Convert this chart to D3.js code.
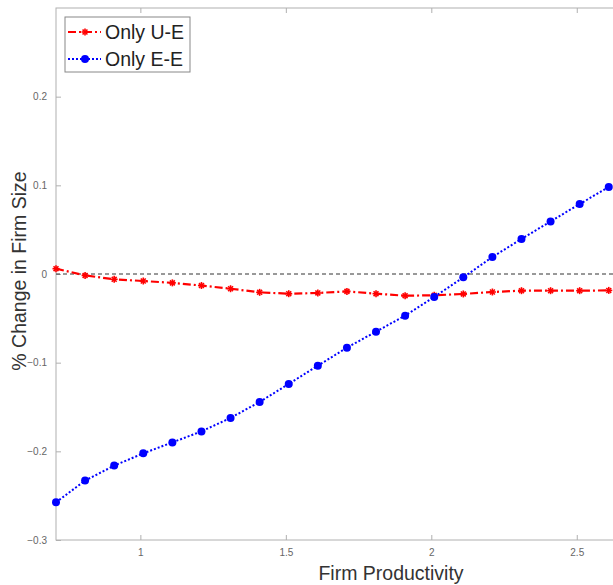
<!DOCTYPE html>
<html>
<head>
<meta charset="utf-8">
<script src="https://cdn.jsdelivr.net/npm/d3@7"></script>
<style>
  body { margin: 0; background: #fff; }
  svg { display: block; font-family: "Liberation Sans", Arial, sans-serif; }
</style>
</head>
<body>
<div id="app"></div>
<script>
const productivity = [0.71, 0.81, 0.91, 1.01, 1.11, 1.21, 1.31, 1.41, 1.51, 1.61,
  1.71, 1.81, 1.91, 2.01, 2.11, 2.21, 2.31, 2.41, 2.51, 2.61];
const onlyUE = [0.006, -0.0016, -0.006, -0.0079, -0.010, -0.013, -0.0166, -0.0207, -0.0222, -0.0214,
  -0.0196, -0.0222, -0.0245, -0.024, -0.0225, -0.0203, -0.0188, -0.0188, -0.0188, -0.0185];
const onlyEE = [-0.2575, -0.233, -0.2161, -0.2023, -0.1899, -0.1775, -0.1623, -0.1443, -0.124, -0.1034,
  -0.0831, -0.065, -0.047, -0.0259, -0.0038, 0.0192, 0.0395, 0.0593, 0.0789, 0.0981];
const xTicks = [1, 1.5, 2, 2.5];
const yTicks = [-0.3, -0.2, -0.1, 0, 0.1, 0.2];

const width = 613, height = 585;
const box = { left: 56, right: 614, top: 8, bottom: 540 };

const svg = d3.select("#app").append("svg")
  .attr("width", width)
  .attr("height", height);

const x = d3.scaleLinear().domain([0.71, 2.628]).range([box.left, box.right]);
const y = d3.scaleLinear().domain([-0.3, 0.3]).range([box.bottom, box.top]);

const axisColor = "#b0b0b0";
const labelColor = "#666";

// box outline
svg.append("rect")
  .attr("x", box.left).attr("y", box.top)
  .attr("width", box.right - box.left).attr("height", box.bottom - box.top)
  .style("fill", "none").style("stroke", axisColor).style("stroke-width", 1);

// bottom axis, inward ticks
const xAxis = svg.append("g")
  .attr("transform", `translate(0,${box.bottom})`)
  .call(d3.axisBottom(x).tickValues(xTicks).tickSizeInner(-5).tickSizeOuter(0).tickPadding(9)
    .tickFormat(d3.format("")));
xAxis.select(".domain").remove();
xAxis.selectAll("line").style("stroke", axisColor);
xAxis.selectAll("text").style("fill", labelColor).style("font-size", "10px");

// top ticks
svg.append("g")
  .attr("transform", `translate(0,${box.top})`)
  .call(d3.axisTop(x).tickValues(xTicks).tickSizeInner(-5).tickSizeOuter(0).tickFormat(""))
  .call(g => g.select(".domain").remove())
  .selectAll("line").style("stroke", axisColor);

// left axis
const yAxis = svg.append("g")
  .attr("transform", `translate(${box.left},0)`)
  .call(d3.axisLeft(y).tickValues(yTicks).tickSizeInner(-5).tickSizeOuter(0).tickPadding(9)
    .tickFormat(d3.format("")));
yAxis.select(".domain").remove();
yAxis.selectAll("line").style("stroke", axisColor);
yAxis.selectAll("text").style("fill", labelColor).style("font-size", "10px");

// zero reference line
svg.append("line")
  .attr("x1", box.left).attr("x2", box.right)
  .attr("y1", y(0)).attr("y2", y(0))
  .style("stroke", "#333").style("stroke-width", 1)
  .style("stroke-dasharray", "4,3");

// axis titles
svg.append("text")
  .attr("x", 391)
  .attr("y", 580)
  .attr("text-anchor", "middle")
  .style("font-size", "19.5px")
  .style("fill", "#333")
  .text("Firm Productivity");

svg.append("text")
  .attr("transform", `translate(26,271) rotate(-90)`)
  .attr("text-anchor", "middle")
  .style("font-size", "19.5px")
  .style("fill", "#333")
  .text("% Change in Firm Size");

const ueData = productivity.map((p, i) => ({ x: p, y: onlyUE[i] }));
const eeData = productivity.map((p, i) => ({ x: p, y: onlyEE[i] }));

const line = d3.line().x(d => x(d.x)).y(d => y(d.y));

// asterisk marker
function star(g, cx, cy, r) {
  const s = g.append("g").attr("transform", `translate(${cx},${cy})`)
    .style("stroke", "#ff0000").style("stroke-width", 1.6);
  s.append("line").attr("x1", -r).attr("x2", r).attr("y1", 0).attr("y2", 0);
  s.append("line").attr("x1", 0).attr("x2", 0).attr("y1", -r).attr("y2", r);
  s.append("line").attr("x1", -r * 0.7).attr("x2", r * 0.7).attr("y1", -r * 0.7).attr("y2", r * 0.7);
  s.append("line").attr("x1", -r * 0.7).attr("x2", r * 0.7).attr("y1", r * 0.7).attr("y2", -r * 0.7);
}

svg.append("path")
  .datum(ueData)
  .attr("d", line)
  .style("fill", "none").style("stroke", "#ff0000").style("stroke-width", 2.2)
  .style("stroke-dasharray", "8,3,2,3");

const ueMarks = svg.append("g");
ueData.forEach(d => star(ueMarks, x(d.x), y(d.y), 3.5));

svg.append("path")
  .datum(eeData)
  .attr("d", line)
  .style("fill", "none").style("stroke", "#0000ff").style("stroke-width", 2)
  .style("stroke-dasharray", "2,2");

svg.append("g")
  .selectAll("circle")
  .data(eeData)
  .join("circle")
  .attr("cx", d => x(d.x))
  .attr("cy", d => y(d.y))
  .attr("r", 4)
  .style("fill", "#0000ff");

// legend
const legend = svg.append("g");
legend.append("rect")
  .attr("x", 65).attr("y", 17).attr("width", 125).attr("height", 55)
  .style("fill", "#fff").style("stroke", "#888").style("stroke-width", 1);

legend.append("line")
  .attr("x1", 68).attr("x2", 101).attr("y1", 32).attr("y2", 32)
  .style("stroke", "#ff0000").style("stroke-width", 2.2).style("stroke-dasharray", "8,3,2,3");
star(legend, 85, 32, 3.5);
legend.append("text").attr("x", 105).attr("y", 39)
  .style("font-size", "19.5px").style("fill", "#222").text("Only U-E");

legend.append("line")
  .attr("x1", 68).attr("x2", 101).attr("y1", 59).attr("y2", 59)
  .style("stroke", "#0000ff").style("stroke-width", 2).style("stroke-dasharray", "2,2");
legend.append("circle").attr("cx", 85).attr("cy", 59).attr("r", 4).style("fill", "#0000ff");
legend.append("text").attr("x", 105).attr("y", 66)
  .style("font-size", "19.5px").style("fill", "#222").text("Only E-E");
</script>
</body>
</html>
